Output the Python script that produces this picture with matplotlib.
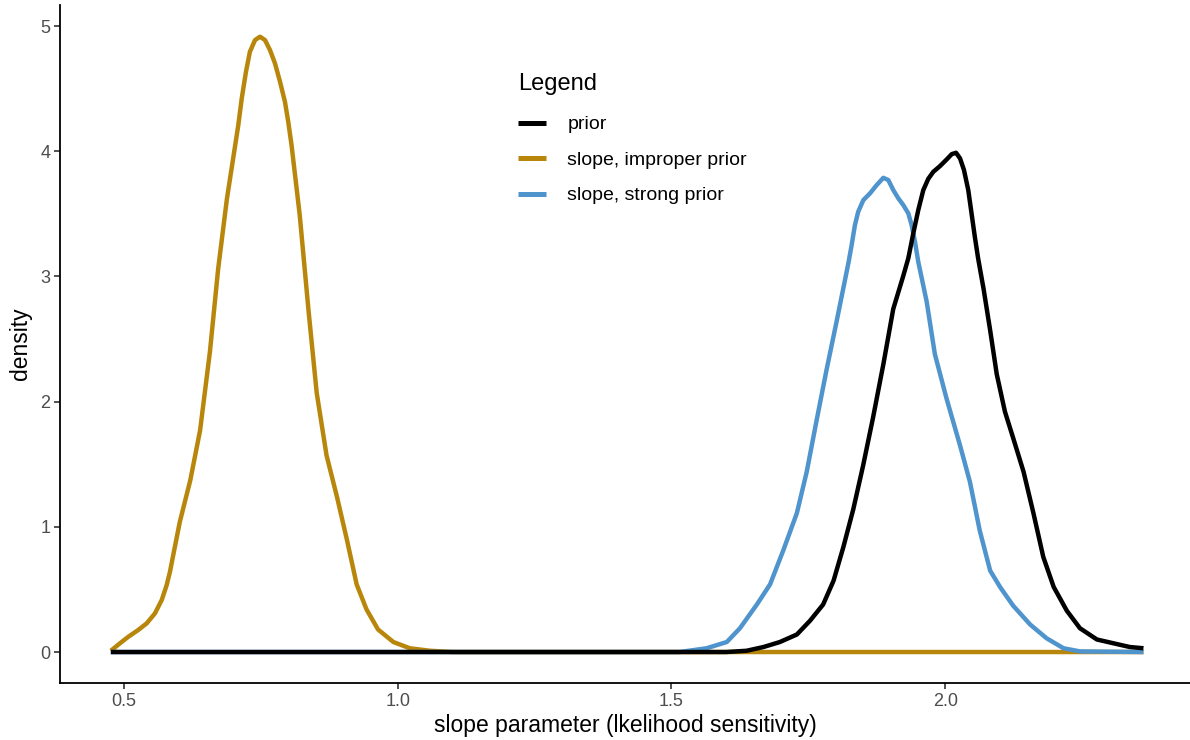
import matplotlib.pyplot as plt

plt.rcParams['font.family'] = ['Liberation Sans', 'DejaVu Sans']

improper_x = [0.476, 0.4927, 0.508, 0.526, 0.5415, 0.5566, 0.5689, 0.578, 0.584, 0.590,
              0.602, 0.621, 0.639, 0.657, 0.672, 0.688, 0.7088, 0.715, 0.7228, 0.730,
              0.7393, 0.7484, 0.7576, 0.7667, 0.7758, 0.785, 0.794, 0.800, 0.806, 0.821,
              0.837, 0.852, 0.870, 0.889, 0.907, 0.925, 0.943, 0.964, 0.992, 1.022,
              1.059, 1.100, 2.362]
improper_y = [0.01, 0.07, 0.122, 0.176, 0.229, 0.309, 0.415, 0.535, 0.641, 0.775,
              1.04, 1.37, 1.77, 2.40, 3.06, 3.62, 4.209, 4.42, 4.635, 4.795,
              4.888, 4.915, 4.888, 4.808, 4.702, 4.555, 4.395, 4.236, 4.05, 3.49,
              2.73, 2.07, 1.57, 1.24, 0.90, 0.54, 0.34, 0.18, 0.08, 0.03,
              0.01, 0.0, 0.0]

strong_x = [0.476, 1.515, 1.564, 1.601, 1.625, 1.656, 1.680, 1.704, 1.729, 1.747,
            1.765, 1.783, 1.802, 1.823, 1.829, 1.835, 1.841, 1.8504, 1.8626, 1.8748,
            1.8869, 1.896, 1.9051, 1.9143, 1.9234, 1.9325, 1.9386, 1.9447, 1.9507, 1.966,
            1.981, 2.002, 2.027, 2.045, 2.063, 2.082, 2.100, 2.124, 2.155, 2.185,
            2.216, 2.246, 2.362]
strong_y = [0.0, 0.0, 0.03, 0.08, 0.19, 0.38, 0.54, 0.81, 1.11, 1.44,
            1.85, 2.25, 2.65, 3.105, 3.25, 3.41, 3.517, 3.61, 3.664, 3.73,
            3.788, 3.77, 3.69, 3.624, 3.57, 3.504, 3.41, 3.277, 3.117, 2.80,
            2.38, 2.03, 1.65, 1.36, 0.97, 0.65, 0.52, 0.37, 0.22, 0.11,
            0.03, 0.005, 0.0]

prior_x = [0.476, 1.600, 1.637, 1.668, 1.698, 1.729, 1.753, 1.777, 1.796, 1.814,
           1.832, 1.850, 1.868, 1.887, 1.905, 1.923, 1.9325, 1.9416, 1.9507, 1.9599,
           1.969, 1.9782, 1.990, 2.0027, 2.0118, 2.0197, 2.027, 2.0342, 2.042, 2.048,
           2.054, 2.060, 2.070, 2.082, 2.094, 2.109, 2.124, 2.143, 2.161, 2.179,
           2.198, 2.222, 2.246, 2.277, 2.307, 2.337, 2.362]
prior_y = [0.0, 0.0, 0.01, 0.04, 0.08, 0.14, 0.25, 0.38, 0.57, 0.84,
           1.14, 1.49, 1.87, 2.30, 2.74, 3.0, 3.145, 3.344, 3.53, 3.69,
           3.78, 3.836, 3.88, 3.935, 3.977, 3.988, 3.943, 3.85, 3.69, 3.504,
           3.317, 3.145, 2.90, 2.57, 2.22, 1.92, 1.71, 1.44, 1.11, 0.76,
           0.52, 0.33, 0.19, 0.10, 0.07, 0.04, 0.03]

labels = ['prior', 'slope, improper prior', 'slope, strong prior']
colors = ['#000000', '#B8860B', '#4F94CD']

x_ticks = [0.5, 1.0, 1.5, 2.0]
y_ticks = [0, 1, 2, 3, 4, 5]

fig = plt.figure(figsize=(11.9, 7.4), dpi=100)
ax = fig.add_axes([0.0504, 0.077, 0.9496, 0.9162])

style = dict(lw=3.2, solid_capstyle='butt', solid_joinstyle='round')
l_imp, = ax.plot(improper_x, improper_y, color=colors[1], zorder=2, **style)
l_str, = ax.plot(strong_x, strong_y, color=colors[2], zorder=3, **style)
l_pri, = ax.plot(prior_x, prior_y, color=colors[0], zorder=4, **style)

ax.set_xlim(0.3831, 2.447)
ax.set_ylim(-0.2476, 5.168)
ax.set_xticks(x_ticks)
ax.set_xticklabels(['0.5', '1.0', '1.5', '2.0'])
ax.set_yticks(y_ticks)

for side in ['top', 'right']:
    ax.spines[side].set_visible(False)
for side in ['left', 'bottom']:
    ax.spines[side].set_linewidth(1.3)
ax.tick_params(length=4, width=1.2, color='#333333', labelcolor='#4D4D4D',
               labelsize=13, pad=3)

ax.set_xlabel('slope parameter (lkelihood sensitivity)', fontsize=16.5, labelpad=3)
ax.set_ylabel('density', fontsize=16.5, labelpad=6)

leg = ax.legend([l_pri, l_imp, l_str], labels, title='Legend', frameon=False,
                loc='upper left', bbox_to_anchor=(518 / 1190, 1 - 73 / 740),
                bbox_transform=fig.transFigure, fontsize=14, title_fontsize=17,
                handlelength=1.44, handletextpad=1.1, labelspacing=0.92,
                borderpad=0, borderaxespad=0, alignment='left')
leg._legend_box.sep = 15
for h in leg.legend_handles:
    h.set_linewidth(3.6)

fig.savefig('out.png', dpi=100)
